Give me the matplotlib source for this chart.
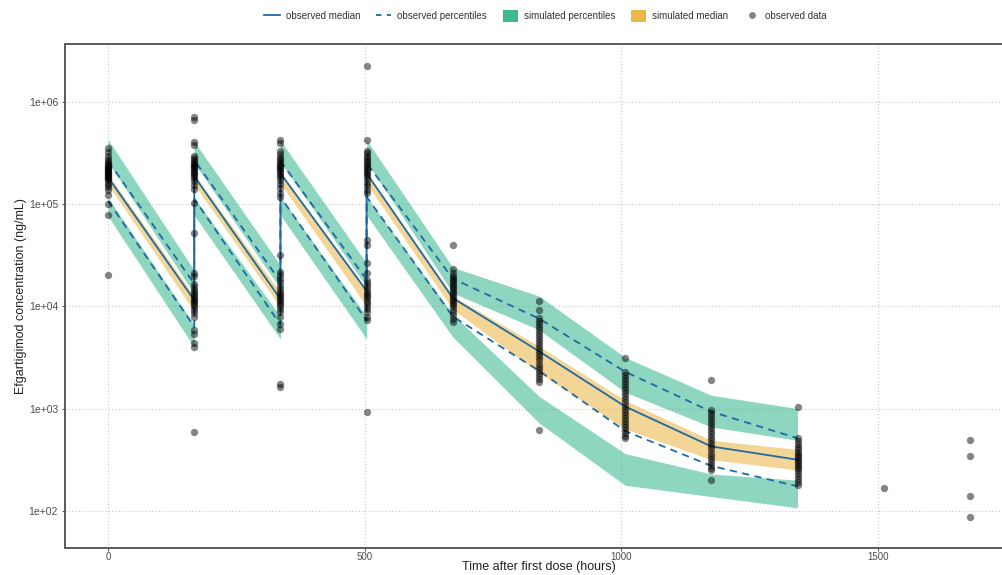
import numpy as np
import matplotlib
matplotlib.use("Agg")
import matplotlib.pyplot as plt
from matplotlib.lines import Line2D
from matplotlib.patches import Patch
from matplotlib.ticker import FixedLocator, FuncFormatter, NullLocator

plt.rcParams['font.family'] = ['Liberation Sans Narrow', 'Liberation Sans', 'DejaVu Sans']

# bin times (dose times appear twice: trough then post-dose peak)
t_bins = [0, 168, 168, 336, 336, 504, 504, 672, 840, 1008, 1176, 1344]

# log10 concentration
obs_med = [5.26, 4.06, 5.27, 4.07, 5.30, 4.15, 5.30, 4.08, 3.56, 3.02, 2.63, 2.50]
obs_p95 = [5.42, 4.22, 5.43, 4.24, 5.42, 4.26, 5.40, 4.27, 3.88, 3.36, 2.97, 2.71]
obs_p05 = [5.03, 3.80, 5.05, 3.82, 5.07, 3.86, 5.07, 3.90, 3.37, 2.78, 2.44, 2.24]

sim_p95_hi = [5.63, 4.35, 5.61, 4.40, 5.62, 4.42, 5.625, 4.38, 4.10, 3.50, 3.13, 3.00]
sim_p95_lo = [5.41, 4.12, 5.40, 4.17, 5.41, 4.19, 5.41, 4.13, 3.77, 3.16, 2.82, 2.69]
sim_med_hi = [5.29, 4.10, 5.29, 4.13, 5.30, 4.15, 5.30, 4.10, 3.61, 3.08, 2.69, 2.60]
sim_med_lo = [5.19, 3.95, 5.19, 3.99, 5.20, 4.00, 5.20, 3.97, 3.35, 2.80, 2.50, 2.40]
sim_p05_hi = [5.06, 3.82, 5.06, 3.90, 5.07, 3.90, 5.07, 3.92, 3.12, 2.56, 2.36, 2.30]
sim_p05_lo = [4.88, 3.60, 4.89, 3.68, 4.89, 3.68, 4.89, 3.70, 2.86, 2.25, 2.14, 2.03]

# observed concentrations (log10) per nominal time
obs_times = [0, 168, 336, 504, 672, 840, 1008, 1176, 1344, 1512, 1680]
obs_vals = [
    [5.55, 5.51, 5.47, 5.44, 5.42, 5.40, 5.39, 5.37, 5.36, 5.35, 5.34, 5.33, 5.32, 5.31, 5.30,
     5.29, 5.28, 5.27, 5.26, 5.25, 5.24, 5.23, 5.21, 5.19, 5.17, 5.14, 5.09, 5.00, 4.89, 4.31],
    [5.85, 5.82, 5.61, 5.58, 5.47, 5.45, 5.43, 5.41, 5.40, 5.38, 5.37, 5.36, 5.35, 5.33, 5.32,
     5.30, 5.29, 5.27, 5.25, 5.22, 5.19, 5.15, 5.01, 4.72, 4.33, 4.30, 4.22, 4.19, 4.16, 4.14,
     4.12, 4.10, 4.08, 4.06, 4.05, 4.03, 4.01, 3.99, 3.96, 3.93, 3.90, 3.77, 3.73, 3.64, 3.60, 2.77],
    [5.63, 5.60, 5.52, 5.49, 5.46, 5.44, 5.42, 5.40, 5.38, 5.37, 5.35, 5.34, 5.32, 5.30, 5.28,
     5.26, 5.23, 5.20, 5.16, 5.11, 5.07, 4.50, 4.34, 4.31, 4.27, 4.24, 4.20, 4.17, 4.14, 4.12,
     4.10, 4.08, 4.06, 4.04, 4.02, 4.00, 3.97, 3.94, 3.90, 3.83, 3.78, 3.24, 3.21],
    [6.35, 5.63, 5.52, 5.50, 5.47, 5.45, 5.43, 5.41, 5.39, 5.37, 5.35, 5.33, 5.31, 5.29, 5.27,
     5.24, 5.21, 5.18, 5.14, 5.11, 4.65, 4.60, 4.42, 4.33, 4.26, 4.23, 4.20, 4.17, 4.14, 4.12,
     4.10, 4.08, 4.05, 4.03, 4.00, 3.97, 3.94, 3.90, 3.87, 2.97],
    [4.60, 4.36, 4.33, 4.30, 4.28, 4.26, 4.24, 4.22, 4.20, 4.18, 4.16, 4.14, 4.12, 4.10, 4.08,
     4.06, 4.04, 4.02, 4.00, 3.97, 3.94, 3.91, 3.88, 3.85],
    [4.05, 3.96, 3.89, 3.86, 3.83, 3.80, 3.77, 3.74, 3.71, 3.68, 3.65, 3.62, 3.59, 3.56, 3.53,
     3.50, 3.47, 3.44, 3.41, 3.38, 3.35, 3.32, 3.29, 3.26, 2.79],
    [3.49, 3.36, 3.33, 3.30, 3.27, 3.24, 3.21, 3.18, 3.15, 3.12, 3.09, 3.06, 3.03, 3.00, 2.97,
     2.94, 2.91, 2.88, 2.85, 2.82, 2.79, 2.76, 2.73, 2.71],
    [3.28, 2.99, 2.96, 2.93, 2.90, 2.87, 2.84, 2.81, 2.78, 2.75, 2.72, 2.69, 2.66, 2.63, 2.60,
     2.57, 2.54, 2.51, 2.48, 2.45, 2.42, 2.40, 2.30],
    [3.02, 2.71, 2.68, 2.65, 2.62, 2.60, 2.58, 2.56, 2.54, 2.52, 2.50, 2.48, 2.46, 2.44, 2.42,
     2.40, 2.37, 2.34, 2.31, 2.28, 2.25],
    [2.22],
    [2.69, 2.54, 2.15, 1.94],
]

y_ticks = [1e2, 1e3, 1e4, 1e5, 1e6]
y_tick_labels = ['1e+02', '1e+03', '1e+04', '1e+05', '1e+06']
x_ticks = [0, 500, 1000, 1500]

green = '#1fae82'
orange = '#e9ac2c'
blue = '#1f6aa5'


def conc(v):
    return np.power(10.0, np.asarray(v))


fig = plt.figure(figsize=(10.03, 5.75), dpi=100)
ax = fig.add_axes([65 / 1003, 1 - 548 / 575, 948 / 1003, 504 / 575])

ax.fill_between(t_bins, conc(sim_p95_lo), conc(sim_p95_hi), color=green, alpha=0.5, lw=0)
ax.fill_between(t_bins, conc(sim_p05_lo), conc(sim_p05_hi), color=green, alpha=0.5, lw=0)
ax.fill_between(t_bins, conc(sim_med_lo), conc(sim_med_hi), color=orange, alpha=0.5, lw=0)

ax.plot(t_bins, conc(obs_med), color=blue, lw=1.3)
ax.plot(t_bins, conc(obs_p95), color=blue, lw=1.3, ls=(0, (4, 3)))
ax.plot(t_bins, conc(obs_p05), color=blue, lw=1.3, ls=(0, (4, 3)))

for t, vals in zip(obs_times, obs_vals):
    ax.scatter([t] * len(vals), conc(vals), s=28, color='black', alpha=0.48, lw=0, zorder=5)

ax.set_yscale('log')
ax.set_xlim(-84, 1764)
ax.set_ylim(10 ** 1.637, 10 ** 6.564)
ax.yaxis.set_major_locator(FixedLocator(y_ticks))
ax.yaxis.set_major_formatter(FuncFormatter(lambda v, p: y_tick_labels[y_ticks.index(v)] if v in y_ticks else ''))
ax.yaxis.set_minor_locator(NullLocator())
ax.set_xticks(x_ticks)

ax.grid(True, color='#c8c8c8', linestyle=(0, (1, 2)), linewidth=0.8)
ax.set_axisbelow(True)
for s in ax.spines.values():
    s.set_color('#5a5a5a')
    s.set_linewidth(1.4)
ax.tick_params(length=2, width=0.7, color='#555555', labelcolor='#4d4d4d', labelsize=7.5)
ax.tick_params(axis='x', pad=0.8, labelsize=7)
ax.tick_params(axis='y', pad=3)

# axis titles placed as in the reference (panel runs past the right edge)
fig.text(539 / 1003, 1 - 567 / 575, 'Time after first dose (hours)', fontsize=9, color='#222222',
         ha='center', va='center')
fig.text(21 / 1003, 1 - 296 / 575, 'Efgartigimod concentration (ng/mL)', fontsize=9, color='#222222',
         ha='center', va='center', rotation=90)

handles = [
    Line2D([], [], color=blue, lw=1.3),
    Line2D([], [], color=blue, lw=1.3, ls=(0, (3, 3))),
    Patch(facecolor=green, alpha=0.85, lw=0),
    Patch(facecolor=orange, alpha=0.85, lw=0),
    Line2D([], [], marker='o', ls='none', color='black', alpha=0.48, markersize=5, markeredgewidth=0),
]
labels = ['observed median', 'observed percentiles', 'simulated percentiles', 'simulated median', 'observed data']
fig.legend(handles, labels, loc='center', bbox_to_anchor=(0.544, 0.972), ncol=5, frameon=False,
           fontsize=7, handlelength=1.6, handleheight=1.6, columnspacing=1.6, handletextpad=0.6,
           labelcolor='#333333')

fig.savefig('out.png', dpi=100)
